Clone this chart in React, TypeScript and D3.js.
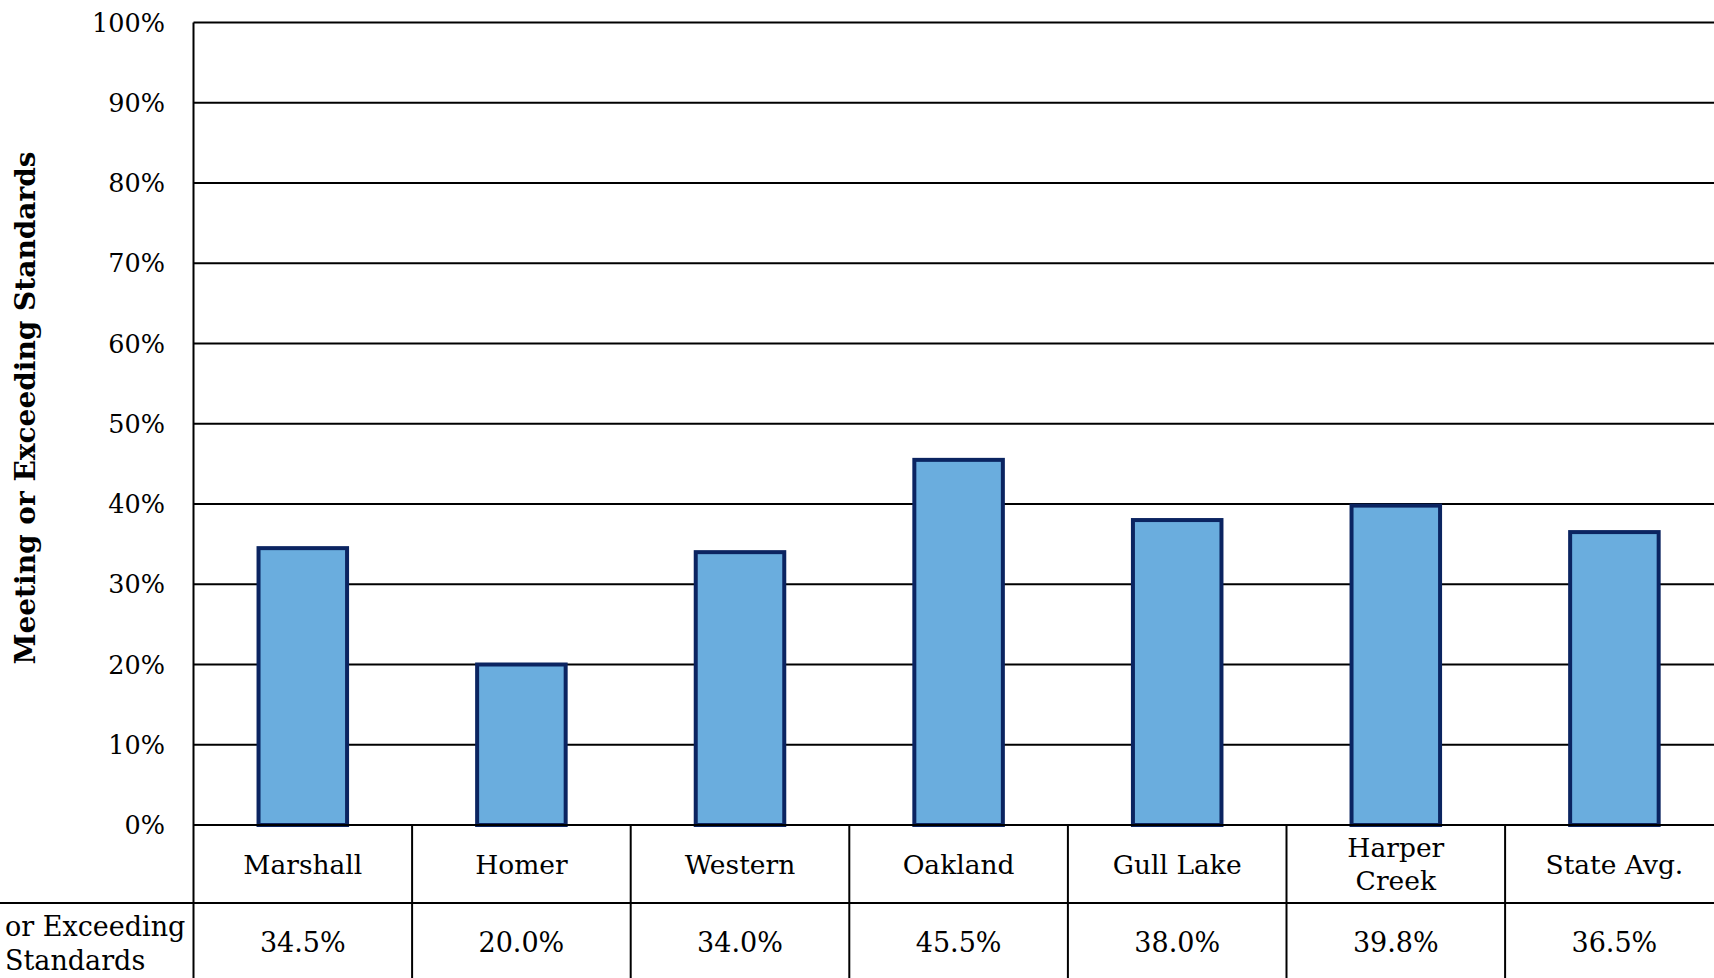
import React from "react";
import * as d3 from "d3";

const categories: string[][] = [
  ["Marshall"],
  ["Homer"],
  ["Western"],
  ["Oakland"],
  ["Gull Lake"],
  ["Harper", "Creek"],
  ["State Avg."],
];
const values: number[] = [34.5, 20.0, 34.0, 45.5, 38.0, 39.8, 36.5];
const valueLabels: string[] = ["34.5%", "20.0%", "34.0%", "45.5%", "38.0%", "39.8%", "36.5%"];
const yTicks: number[] = [0, 10, 20, 30, 40, 50, 60, 70, 80, 90, 100];
const yTitle = "Meeting or Exceeding Standards";
const rowLabelLines: string[] = ["or Exceeding", "Standards"];

const W = 1714;
const H = 978;
const FONT = "'DejaVu Serif', serif";

export default function App() {
  const left = 193.5;
  const colW = 218.6;
  const top = 22.5;
  const base = 825;
  const row2 = 903;

  const x = d3
    .scaleBand<number>()
    .domain(d3.range(categories.length))
    .range([left, left + colW * categories.length])
    .paddingInner(0.595)
    .paddingOuter(0.2975);
  const y = d3.scaleLinear().domain([0, 100]).range([base, top]);

  const bounds = d3.range(categories.length + 1).map((i) => left + i * colW);

  return (
    <svg
      width={W}
      height={H}
      style={{ position: "absolute", left: 0, top: 0, background: "#fff" }}
      fontFamily={FONT}
    >
      {/* gridlines */}
      {yTicks.map((t) => (
        <line key={"g" + t} x1={left} x2={W} y1={y(t)} y2={y(t)} stroke="#000" strokeWidth={1.8} />
      ))}
      {/* tick labels */}
      {yTicks.map((t) => (
        <text
          key={"t" + t}
          x={165}
          y={y(t)}
          textAnchor="end"
          dominantBaseline="central"
          fontSize={25.5}
          fill="#000"
        >
          {t + "%"}
        </text>
      ))}
      {/* bars */}
      {values.map((v, i) => (
        <rect
          key={"b" + i}
          x={x(i)}
          y={y(v)}
          width={x.bandwidth()}
          height={base - y(v)}
          fill="#6AADDE"
          stroke="#0B2461"
          strokeWidth={4}
        />
      ))}
      {/* y-axis title */}
      <text
        transform={`translate(35, 408) rotate(-90)`}
        textAnchor="middle"
        fontSize={28}
        fontWeight="bold"
        fill="#000"
      >
        {yTitle}
      </text>
      {/* table lines */}
      <line x1={left} x2={left} y1={top} y2={H} stroke="#000" strokeWidth={2} />
      <line x1={left} x2={W} y1={base} y2={base} stroke="#000" strokeWidth={2} />
      <line x1={0} x2={W} y1={row2} y2={row2} stroke="#000" strokeWidth={2} />
      {bounds.slice(1).map((b, i) => (
        <line key={"v" + i} x1={b} x2={b} y1={base} y2={H} stroke="#000" strokeWidth={2} />
      ))}
      {/* category labels */}
      {categories.map((lines, i) => {
        const cx = left + colW * (i + 0.5);
        const cy = (base + row2) / 2;
        const lh = 33;
        return (
          <text key={"c" + i} textAnchor="middle" fontSize={26.5} fill="#000">
            {lines.map((l, j) => (
              <tspan
                key={j}
                x={cx}
                y={cy + (j - (lines.length - 1) / 2) * lh}
                dominantBaseline="central"
              >
                {l}
              </tspan>
            ))}
          </text>
        );
      })}
      {/* value labels */}
      {valueLabels.map((l, i) => (
        <text
          key={"vl" + i}
          x={left + colW * (i + 0.5)}
          y={942}
          textAnchor="middle"
          dominantBaseline="central"
          fontSize={27}
          fill="#000"
        >
          {l}
        </text>
      ))}
      {/* row label */}
      {rowLabelLines.map((l, j) => (
        <text key={"rl" + j} x={5} y={926 + j * 34} dominantBaseline="central" fontSize={27} fill="#000">
          {l}
        </text>
      ))}
    </svg>
  );
}
